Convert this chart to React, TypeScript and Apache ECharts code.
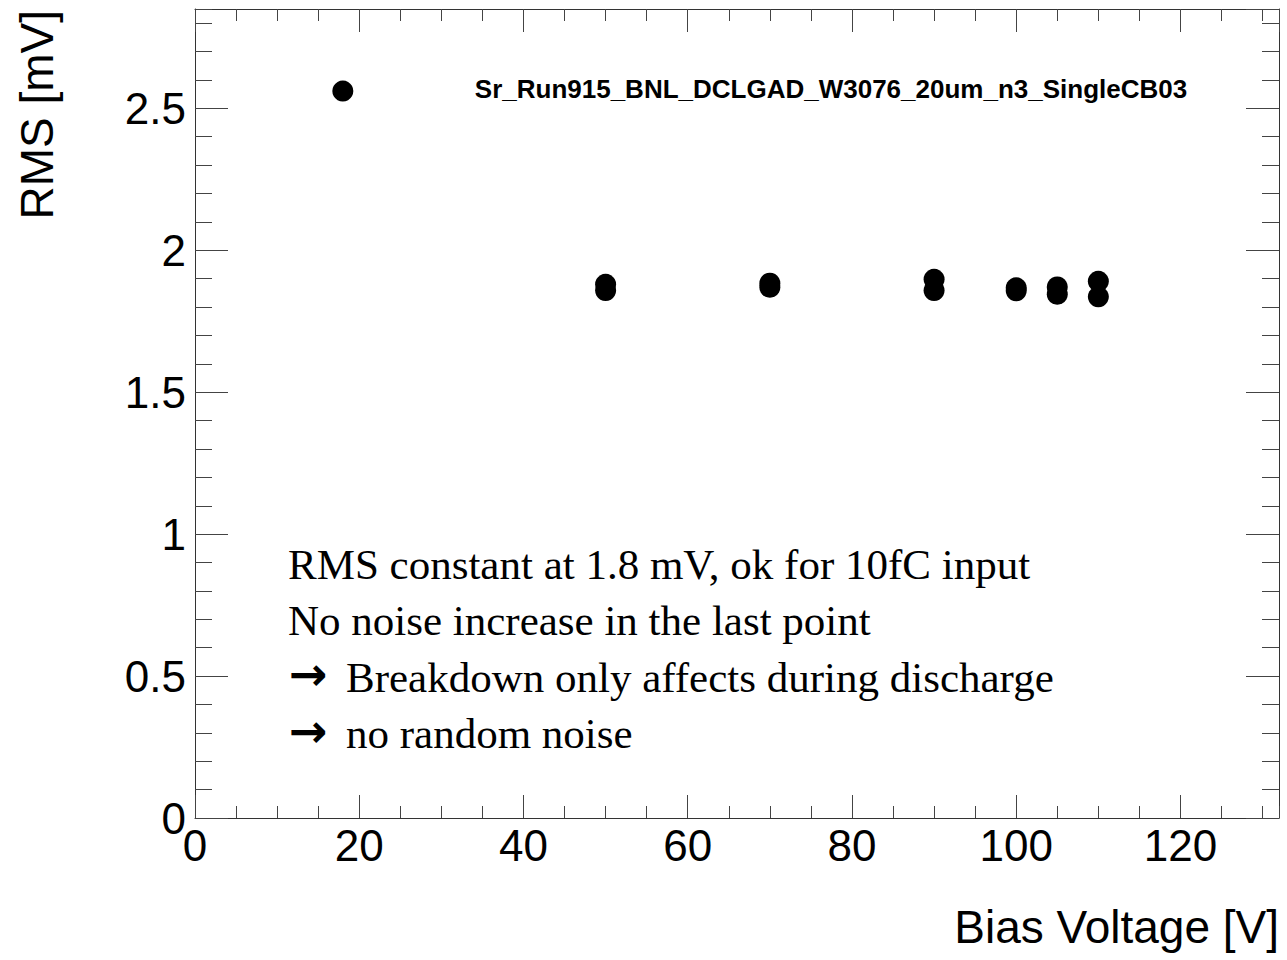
import React, { useEffect, useRef } from "react";
import * as echarts from "echarts";

const voltages = [18, 50, 50, 70, 70, 90, 90, 100, 100, 105, 105, 110, 110];
const rmsValues = [2.561, 1.88, 1.858, 1.884, 1.87, 1.898, 1.858, 1.868, 1.857, 1.871, 1.845, 1.891, 1.836];

const xRange = [0, 132];
const yRange = [0, 2.85];
const xMajor = 20;
const xMinor = 5;
const yMajor = 0.5;
const yMinor = 0.1;

const titleText = "Sr_Run915_BNL_DCLGAD_W3076_20um_n3_SingleCB03";
const xName = "Bias Voltage [V]";
const yName = "RMS [mV]";
const noteLines = [
  "RMS constant at 1.8 mV, ok for 10fC input",
  "No noise increase in the last point",
  "Breakdown only affects during discharge",
  "no random noise",
];
const noteArrows = [false, false, true, true];

const SANS = "Liberation Sans, Arial, Helvetica, sans-serif";
const SERIF = "Liberation Serif, Times New Roman, serif";

export default function App() {
  const ref = useRef<HTMLDivElement>(null);

  useEffect(() => {
    if (!ref.current) return;
    const chart = echarts.init(ref.current, undefined, { renderer: "svg" });

    const tickColor = "#444";
    const lineColor = "#333";

    const mkX = (position: string, interval: number, len: number, showLine: boolean, showLabel: boolean) => ({
      type: "value",
      min: xRange[0],
      max: xRange[1],
      interval,
      position,
      axisLine: { show: showLine, onZero: false, lineStyle: { color: lineColor, width: 1 } },
      axisTick: { show: true, inside: true, length: len, lineStyle: { color: tickColor, width: 1 } },
      axisLabel: {
        show: showLabel,
        fontSize: 44,
        color: "#000",
        fontFamily: SANS,
        margin: 5,
        showMaxLabel: false,
      },
      splitLine: { show: false },
    });
    const mkY = (position: string, interval: number, len: number, showLine: boolean, showLabel: boolean) => ({
      type: "value",
      min: yRange[0],
      max: yRange[1],
      interval,
      position,
      axisLine: { show: showLine, onZero: false, lineStyle: { color: lineColor, width: 1 } },
      axisTick: { show: true, inside: true, length: len, lineStyle: { color: tickColor, width: 1 } },
      axisLabel: {
        show: showLabel,
        fontSize: 44,
        color: "#000",
        fontFamily: SANS,
        margin: 9,
        showMaxLabel: false,
      },
      splitLine: { show: false },
    });

    const data = voltages.map((v, i) => [v, rmsValues[i]]);

    const graphics: any[] = [
      {
        type: "text",
        x: 831,
        y: 89,
        style: {
          text: titleText,
          fontSize: 26,
          fontWeight: "bold",
          fontFamily: SANS,
          fill: "#000",
          align: "center",
          verticalAlign: "middle",
        },
      },
      {
        type: "text",
        x: 37,
        y: 10,
        rotation: Math.PI / 2,
        style: {
          text: yName,
          fontSize: 46,
          fontFamily: SANS,
          fill: "#000",
          align: "right",
          verticalAlign: "middle",
        },
      },
      {
        type: "text",
        x: 1279,
        y: 927,
        style: {
          text: xName,
          fontSize: 46,
          fontFamily: SANS,
          fill: "#000",
          align: "right",
          verticalAlign: "middle",
        },
      },
    ];
    noteLines.forEach((t, i) => {
      const y = 564 + i * 56.5;
      if (noteArrows[i]) {
        graphics.push({
          type: "text",
          x: 289,
          y: y - 3,
          style: {
            text: "\u2192",
            fontSize: 46,
            fontWeight: "bold",
            fontFamily: "DejaVu Sans, sans-serif",
            fill: "#000",
            align: "left",
            verticalAlign: "middle",
          },
        });
      }
      graphics.push({
        type: "text",
        x: noteArrows[i] ? 346 : 288,
        y,
        style: {
          text: t,
          fontSize: 43,
          fontFamily: SERIF,
          fill: "#000",
          align: "left",
          verticalAlign: "middle",
        },
      });
    });

    chart.setOption({
      animation: false,
      backgroundColor: "#fff",
      grid: { left: 195, top: 9, width: 1084, height: 809, containLabel: false },
      xAxis: [
        mkX("bottom", xMajor, 23, true, true),
        mkX("bottom", xMinor, 12, false, false),
        mkX("top", xMajor, 23, true, false),
        mkX("top", xMinor, 12, false, false),
      ],
      yAxis: [
        mkY("left", yMajor, 33, true, true),
        mkY("left", yMinor, 17, false, false),
        mkY("right", yMajor, 33, true, false),
        mkY("right", yMinor, 17, false, false),
      ],
      series: [
        {
          type: "scatter",
          xAxisIndex: 0,
          yAxisIndex: 0,
          data,
          symbol: "circle",
          symbolSize: 21,
          itemStyle: { color: "#000", opacity: 1 },
        },
      ],
      graphic: graphics,
    });

    return () => chart.dispose();
  }, []);

  return (
    <div
      ref={ref}
      style={{ position: "fixed", left: 0, top: 0, width: 1287, height: 960, background: "#fff" }}
    />
  );
}
